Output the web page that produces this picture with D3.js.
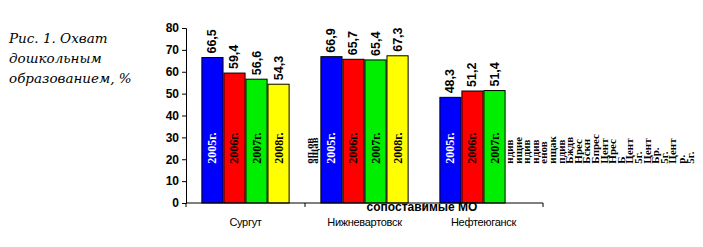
<!DOCTYPE html>
<html>
<head>
<meta charset="utf-8">
<script src="https://cdn.jsdelivr.net/npm/d3@7"></script>
<style>
  body { margin: 0; background: #fff; }
  svg { display: block; }
</style>
</head>
<body>
<svg width="703" height="247"></svg>
<script>
const categories = ['Сургут', 'Нижневартовск', 'Нефтеюганск'];
const seriesNames = ['2005г.', '2006г.', '2007г.', '2008г.'];
const seriesColors = ['#0000ff', '#ff0000', '#00ee00', '#ffff00'];
const seriesTextColors = ['#fff', '#000', '#000', '#000'];
const values = [
  [66.5, 59.4, 56.6, 54.3],
  [66.9, 65.7, 65.4, 67.3],
  [48.3, 51.2, 51.4, null],
];
const yTicks = [0, 10, 20, 30, 40, 50, 60, 70, 80];
const captionLines = ['Рис. 1. Охват', 'дошкольным', 'образованием, %'];
const axisTitle = 'сопоставимые МО';
// overlapping leftover labels seen beside the groups
const gapLabels = ['оп.ов', 'ащав'];
const strayLabels = ['ндив', 'ищие', 'ндив', 'ндив', 'енов', 'ищак', 'пдив', 'Бждв',
  'Нрес', 'Бскн', 'Бпрес', 'Цент', 'Нрес', 'Б', 'Цент', '5г.', 'Цент', 'Бр.', '5г.',
  'Цент', 'р.', '5г.'];

const svg = d3.select('svg');
const margin = { left: 186, right: 160, top: 28, bottom: 44 };
const width = 703;
const height = 247;

const x = d3.scaleBand()
  .domain(categories)
  .range([margin.left, width - margin.right])
  .paddingInner(0)
  .paddingOuter(0);

const xSeries = d3.scaleBand()
  .domain(d3.range(seriesNames.length))
  .range([15, x.bandwidth() - 15])
  .padding(0.04);

const y = d3.scaleLinear()
  .domain([0, 80])
  .range([height - margin.bottom, margin.top]);

// Caption
svg.append('g')
  .selectAll('text')
  .data(captionLines)
  .enter()
  .append('text')
  .attr('x', 9)
  .attr('y', (d, i) => 43 + i * 20)
  .attr('font-family', 'DejaVu Serif, serif')
  .attr('font-style', 'italic')
  .attr('font-size', 13.5)
  .text((d) => d);

// Bars
const groups = svg.append('g')
  .selectAll('g')
  .data(categories)
  .enter()
  .append('g')
  .attr('transform', (d) => `translate(${x(d)},0)`);

const cells = groups.selectAll('g')
  .data((d, ci) => values[ci].map((v, si) => ({ v, si })).filter((d) => d.v !== null))
  .enter()
  .append('g');

cells.append('rect')
  .attr('x', (d) => xSeries(d.si))
  .attr('y', (d) => y(d.v))
  .attr('width', xSeries.bandwidth())
  .attr('height', (d) => y(0) - y(d.v))
  .attr('fill', (d) => seriesColors[d.si])
  .attr('stroke', '#000')
  .attr('stroke-width', 1);

// value labels
cells.append('text')
  .attr('transform', (d) => `translate(${xSeries(d.si) + xSeries.bandwidth() / 2 + 4},${y(d.v) - 4})rotate(-90)`)
  .attr('font-family', 'Liberation Sans, Arial, sans-serif')
  .attr('font-weight', 'bold')
  .attr('font-size', 12.5)
  .text((d) => d3.format('.1f')(d.v).replace('.', ','));

// series labels inside bars
cells.append('text')
  .attr('transform', (d) => `translate(${xSeries(d.si) + xSeries.bandwidth() / 2 + 4},${y(18)})rotate(-90)`)
  .attr('font-family', 'Liberation Serif, serif')
  .attr('font-weight', 'bold')
  .attr('font-size', 12)
  .attr('fill', (d) => seriesTextColors[d.si])
  .text((d) => seriesNames[d.si]);

// stray labels
const textStyle = (sel) => sel
  .attr('font-family', 'Liberation Serif, serif')
  .attr('font-weight', 'bold')
  .attr('font-size', 11);

svg.append('g')
  .selectAll('text')
  .data(gapLabels)
  .enter()
  .append('text')
  .attr('transform', (d, i) => `translate(${x(categories[1]) + 8 + i * 5},${y(18)})rotate(-90)`)
  .call(textStyle)
  .text((d) => d);

svg.append('g')
  .selectAll('text')
  .data(strayLabels)
  .enter()
  .append('text')
  .attr('transform', (d, i) => `translate(${x(categories[2]) + x.bandwidth() - 30 + i * 8.6},${y(18)})rotate(-90)`)
  .call(textStyle)
  .text((d) => d);

// Y axis
const yAxis = svg.append('g')
  .attr('transform', `translate(${margin.left},0)`)
  .call(d3.axisLeft(y).tickValues(yTicks).tickSize(4).tickPadding(3));
yAxis.selectAll('text')
  .attr('font-family', 'Liberation Sans, Arial, sans-serif')
  .attr('font-weight', 'bold')
  .attr('font-size', 12)
  .attr('fill', '#000');
yAxis.select('.domain').attr('stroke', '#000');
yAxis.selectAll('line').attr('stroke', '#000');

// X axis
const xAxisG = svg.append('g')
  .attr('transform', `translate(0,${y(0)})`);
xAxisG.append('line')
  .attr('x1', x.range()[0])
  .attr('x2', x.range()[1])
  .attr('stroke', '#000');
xAxisG.selectAll('.tick')
  .data(categories.concat(['end']))
  .enter()
  .append('line')
  .attr('x1', (d, i) => i < categories.length ? x(d) : x.range()[1])
  .attr('x2', (d, i) => i < categories.length ? x(d) : x.range()[1])
  .attr('y1', 0)
  .attr('y2', 4)
  .attr('stroke', '#000');
xAxisG.selectAll('.cat')
  .data(categories)
  .enter()
  .append('text')
  .attr('x', (d) => x(d) + x.bandwidth() / 2)
  .attr('y', 23)
  .attr('text-anchor', 'middle')
  .attr('font-family', 'Liberation Sans, Arial, sans-serif')
  .attr('font-size', 11)
  .attr('letter-spacing', -0.3)
  .text((d) => d);

svg.append('text')
  .attr('x', x(categories[1]) + x.bandwidth() - 2)
  .attr('y', y(0) + 8)
  .attr('text-anchor', 'middle')
  .attr('font-family', 'Liberation Sans, Arial, sans-serif')
  .attr('font-weight', 'bold')
  .attr('font-size', 12)
  .text(axisTitle);
</script>
</body>
</html>
